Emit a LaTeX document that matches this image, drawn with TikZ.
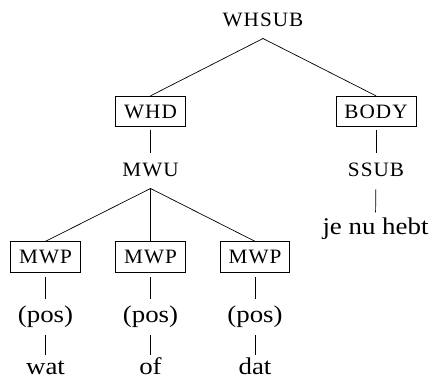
\documentclass[tikz,border=0pt]{standalone}
\usepackage{fontspec}
\setmainfont[FakeStretch=1.12]{Liberation Serif}
\newfontfamily\catfont[FakeStretch=1.04,LetterSpace=5]{Liberation Serif}
\begin{document}
\begin{tikzpicture}[x=1pt,y=-1pt,
  cat/.style={font=\catfont\fontsize{20.4}{24}\selectfont, text height=13.5pt,
    text depth=0pt, inner sep=0pt, anchor=base},
  catbox/.style={font=\catfont\fontsize{20.4}{24}\selectfont, draw, line width=0.8pt,
    text height=13.5pt, text depth=0pt, inner xsep=8.5pt, inner ysep=8.5pt},
  word/.style={font=\fontsize{24}{28}\selectfont, text height=16pt,
    text depth=0pt, inner sep=0pt, anchor=base},
  link/.style={line width=0.7pt}]
\useasboundingbox (0,0) rectangle (430,379);

% top level
\node[cat] (whsub) at (263,26.7) {WHSUB};
\coordinate (whsubfoot) at (263,38.5);
\node[catbox] (whd) at (150.5,111.5) {WHD};
\node[catbox] (body) at (376,111.5) {BODY};
\draw[link] (whsubfoot) -- (whd.north);
\draw[link] (whsubfoot) -- (body.north);

% right branch
\node[cat] (ssub) at (376,177) {SSUB};
\node[word] (jnh) at (375.5,234.5) {je nu hebt};
\draw[link, shorten <=3pt, shorten >=10pt] (body.south) -- (ssub.north);
\draw[link, shorten <=12pt, shorten >=6pt] (ssub.south) -- (jnh.north);

% left branch
\node[cat] (mwu) at (150.5,176.5) {MWU};
\draw[link, shorten <=3pt, shorten >=10pt] (whd.south) -- (mwu.north);
\coordinate (mwufoot) at (150.5,188.5);

\foreach \i/\x/\w in {1/45.5/wat, 2/150.5/of, 3/255/dat}{
  \node[catbox] (mwp\i) at (\x,257) {MWP};
  \node[word] (pos\i) at (\x,322.5) {(pos)};
  \node[word] (w\i) at (\x,374) {\w};
  \draw[link] (mwufoot) -- (mwp\i.north);
  \draw[link, shorten <=4.5pt, shorten >=7.5pt] (mwp\i.south) -- (pos\i.north);
  \draw[link, shorten <=12.5pt, shorten >=3pt] (pos\i.south) -- (w\i.north);
}
\end{tikzpicture}
\end{document}
